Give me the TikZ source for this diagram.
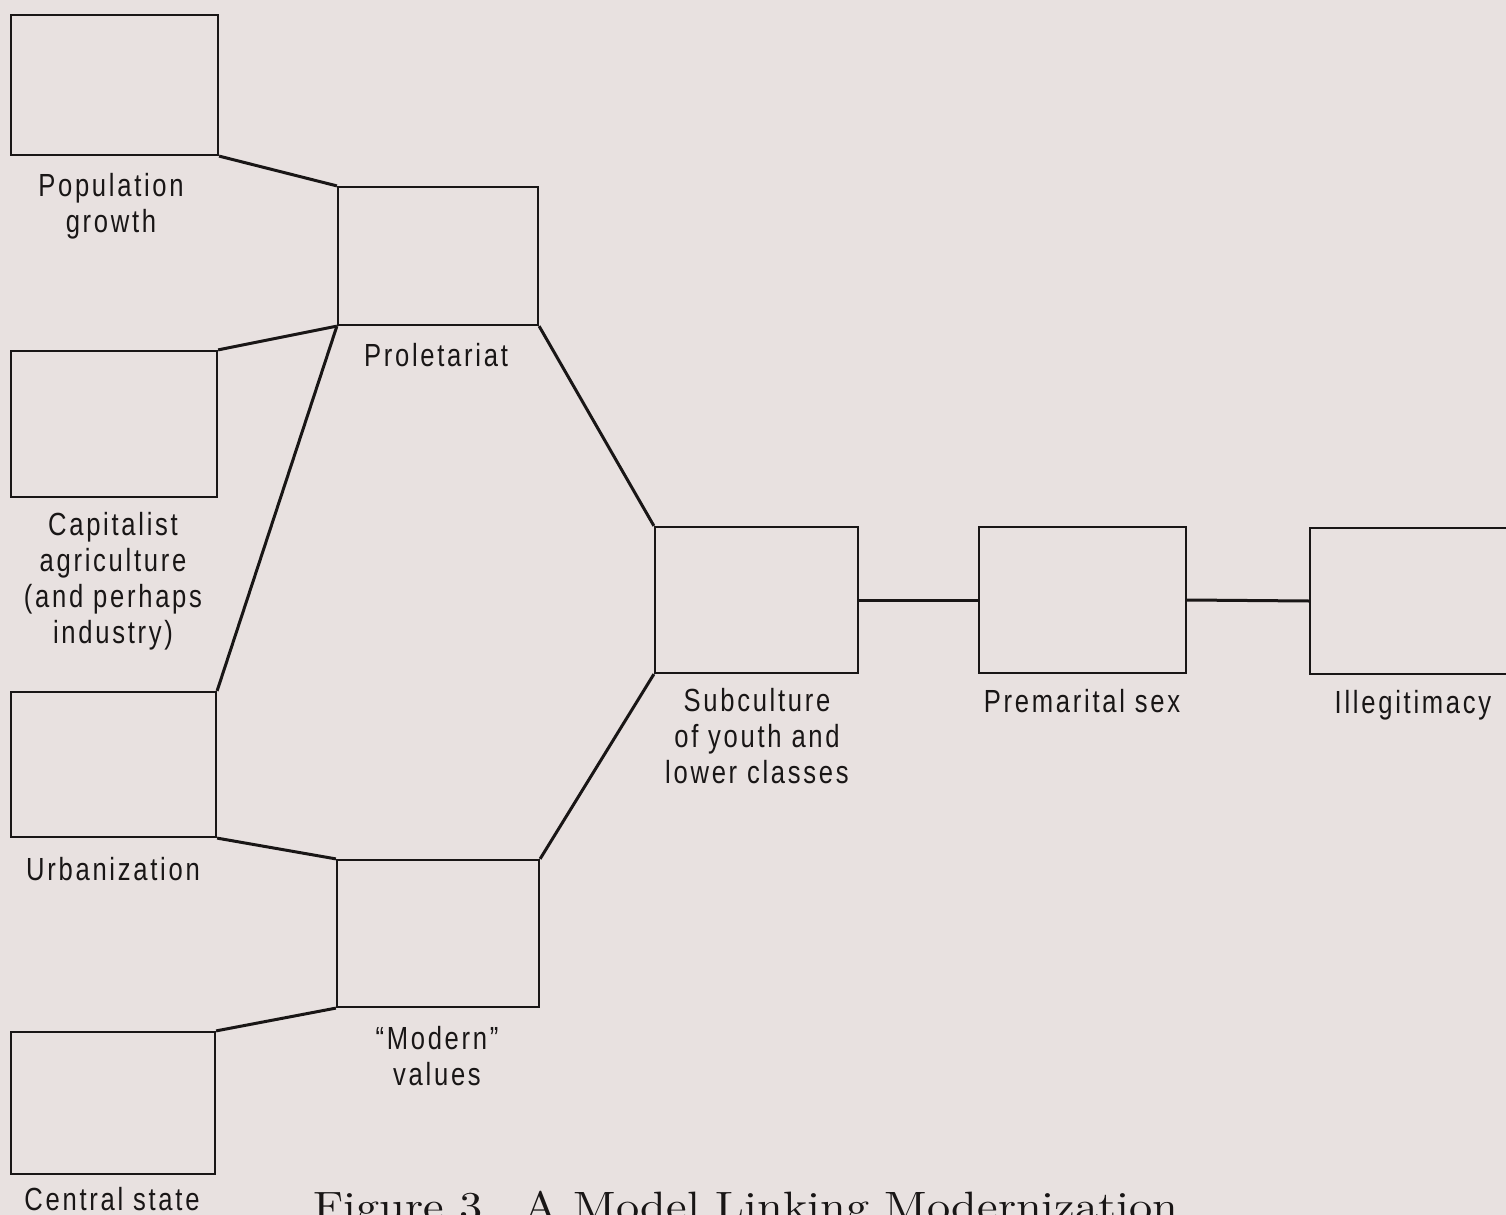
\documentclass[tikz,border=0pt]{standalone}
\usepackage{fontspec}
\newfontfamily\lblfont[FakeStretch=0.8,LetterSpace=8.5]{Liberation Sans}
\newfontfamily\capfont[FakeStretch=1.13]{lmroman10-regular.otf}
\definecolor{bg}{RGB}{232,225,224}
\definecolor{ink}{RGB}{25,22,22}
\tikzset{
  box/.style={draw=ink, line width=1.1pt, rectangle, inner sep=0pt},
  link/.style={draw=ink, line width=1.5pt},
  lbl/.style={font=\lblfont\fontsize{16}{18}\selectfont, text=ink, align=center, inner sep=0pt, anchor=base},
  figcap/.style={font=\capfont\fontsize{20.5}{24}\selectfont, text=ink, inner sep=0pt, anchor=base west}
}
\begin{document}
\begin{tikzpicture}[x=0.5pt,y=-0.5pt]
\useasboundingbox (0,0) rectangle (1506,1215);
\fill[bg] (0,0) rectangle (1506,1215);
% boxes
\node[box, minimum width=103.5pt, minimum height=70pt]   (b1) at (114.5,85) {};
\node[box, minimum width=100pt,   minimum height=69pt]   (b2) at (438,256) {};
\node[box, minimum width=103pt,   minimum height=73pt]   (b3) at (114,424) {};
\node[box, minimum width=102.5pt, minimum height=72.5pt] (b4) at (113.5,764.5) {};
\node[box, minimum width=101pt,   minimum height=73.5pt] (b5) at (438,933.5) {};
\node[box, minimum width=102pt,   minimum height=71pt]   (b6) at (113,1103) {};
\node[box, minimum width=101.5pt, minimum height=73pt]   (b7) at (756.5,600) {};
\node[box, minimum width=103.5pt, minimum height=73pt]   (b8) at (1082.5,600) {};
\node[box, minimum width=103.5pt, minimum height=73pt]   (b9) at (1413.5,601) {};
% labels (anchor base = baseline of last line)
\node[lbl] (l1) at (111,232) {Population\\growth};
\node[lbl] (l2) at (436,366) {Proletariat};
\node[lbl] (l3) at (113,643) {Capitalist\\agriculture\\(and perhaps\\industry)};
\node[lbl] (l4) at (113,880) {Urbanization};
\node[lbl] (l5) at (437,1085) {“Modern”\\values};
\node[lbl] (l6) at (112,1210) {Central state};
\node[lbl] (l7) at (757,783) {Subculture\\of youth and\\lower classes};
\node[lbl] (l8) at (1082,712) {Premarital sex};
\node[lbl] (l9) at (1413,713) {Illegitimacy};
\node[figcap] (c1) at (313,1220) {Figure 3\quad A Model Linking Modernization};
% connectors
\draw[link] (b1.south east) -- (b2.north west);
\draw[link] (b3.north east) -- (b2.south west);
\draw[link] (b4.north east) -- (b2.south west);
\draw[link] (b4.south east) -- (b5.north west);
\draw[link] (b6.north east) -- (b5.south west);
\draw[link] (b2.south east) -- (b7.north west);
\draw[link] (b5.north east) -- (b7.south west);
\draw[link] (b7.east) -- (b8.west);
\draw[link] (b8.east) -- (b9.west);
\end{tikzpicture}
\end{document}
